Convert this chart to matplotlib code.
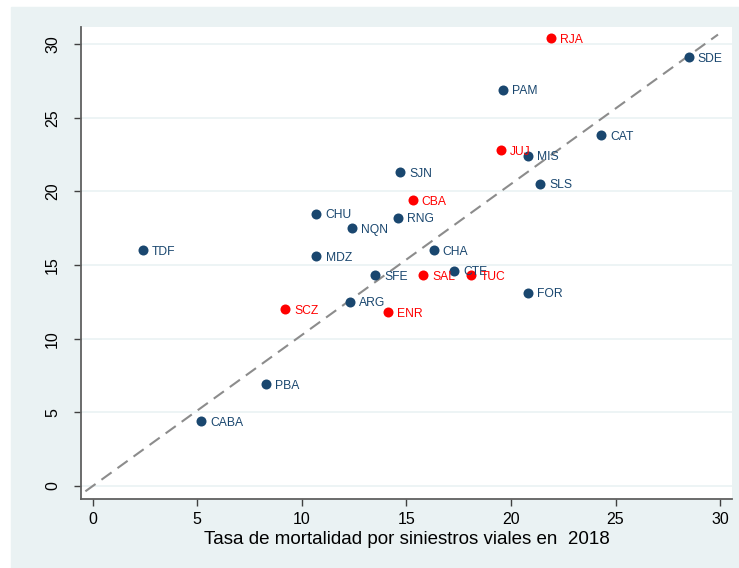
import numpy as np
import matplotlib.pyplot as plt
from matplotlib.patches import Rectangle
from matplotlib import font_manager

# datos: tasa 2018 (x) vs tasa (y), por provincia
provincias = ['RJA', 'SDE', 'PAM', 'CAT', 'JUJ', 'MIS', 'SJN', 'SLS', 'CBA', 'CHU',
              'RNG', 'NQN', 'TDF', 'CHA', 'MDZ', 'SFE', 'SAL', 'CTE', 'TUC', 'FOR',
              'SCZ', 'ARG', 'ENR', 'PBA', 'CABA']
tasa_x = [21.9, 28.5, 19.6, 24.3, 19.5, 20.8, 14.7, 21.4, 15.3, 10.7,
          14.6, 12.4, 2.4, 16.3, 10.7, 13.5, 15.8, 17.3, 18.1, 20.8,
          9.2, 12.3, 14.1, 8.3, 5.2]
tasa_y = [30.4, 29.1, 26.9, 23.8, 22.8, 22.4, 21.3, 20.5, 19.4, 18.5,
          18.2, 17.5, 16.0, 16.0, 15.6, 14.3, 14.3, 14.6, 14.3, 13.1,
          12.0, 12.5, 11.8, 6.9, 4.4]
destacada = ['RJA', 'JUJ', 'CBA', 'SAL', 'TUC', 'SCZ', 'ENR']
ticks = [0, 5, 10, 15, 20, 25, 30]
linea_x = [-0.35, 29.9]
pendiente = 1.025

navy = '#1a476f'
rojo = '#ff0000'
fondo = '#eaf2f3'

nombres = {f.name for f in font_manager.fontManager.ttflist}
narrow = 'Liberation Sans Narrow' if 'Liberation Sans Narrow' in nombres else 'Liberation Sans'

fig = plt.figure(figsize=(7.39, 5.68), dpi=100)
fig.patches.append(Rectangle((11/739, 0), 1, 561/568, transform=fig.transFigure,
                             color=fondo, zorder=-5))
ax = fig.add_axes([81/739, 1-499/568, 651/739, 472/568])
ax.set_facecolor('white')

ax.set_xlim(-0.56, 30.57)
ax.set_ylim(-0.88, 31.16)

for y in ticks:
    ax.axhline(y, color=fondo, lw=1.2, zorder=1)

lx = np.array(linea_x)
ax.plot(lx, pendiente*lx, color='#8c8c8c', lw=1.5, dashes=(6, 3.5), zorder=2)

for nom, x, y in zip(provincias, tasa_x, tasa_y):
    c = rojo if nom in destacada else navy
    ax.scatter(x, y, s=52, color=c, zorder=3, linewidths=0)
    ax.annotate(nom, (x, y), xytext=(6.5, -1), textcoords='offset points',
                va='center', ha='left', color=c, fontsize=8.7,
                family='Liberation Sans', zorder=4)

for s in ['top', 'right']:
    ax.spines[s].set_visible(False)
for s in ['left', 'bottom']:
    ax.spines[s].set_color('#606060')
    ax.spines[s].set_linewidth(1.3)

ax.set_xticks(ticks)
ax.set_yticks(ticks)
ax.tick_params(direction='out', length=5, width=1, color='#404040',
               labelsize=11.5)
ax.tick_params(axis='y', pad=10)
ax.tick_params(axis='x', pad=4)
for lab in ax.get_xticklabels() + ax.get_yticklabels():
    lab.set_family(narrow)
for lab in ax.get_yticklabels():
    lab.set_rotation(90)
    lab.set_va('center')

ax.set_xlabel('Tasa de mortalidad por siniestros viales en  2018',
              fontsize=13.5, family=narrow, labelpad=3)

fig.savefig('out.png', dpi=100)
